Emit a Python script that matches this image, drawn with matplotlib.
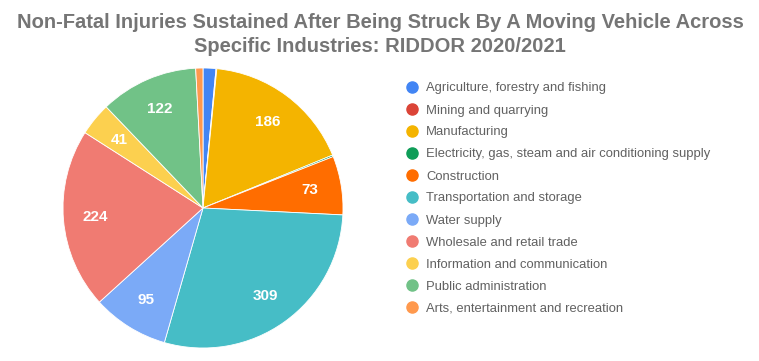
import matplotlib
matplotlib.use("Agg")
import matplotlib.pyplot as plt
import numpy as np
from matplotlib.lines import Line2D

categories = ["Agriculture, forestry and fishing", "Mining and quarrying", "Manufacturing",
              "Electricity, gas, steam and air conditioning supply", "Construction",
              "Transportation and storage", "Water supply", "Wholesale and retail trade",
              "Information and communication", "Public administration",
              "Arts, entertainment and recreation"]
values = [16, 1, 186, 2, 73, 309, 95, 224, 41, 122, 9]
colors = ["#4285F4", "#DB4437", "#F4B400", "#0F9D58", "#FF6D00", "#46BDC6",
          "#7BAAF7", "#F07B72", "#FCD04F", "#71C287", "#FF994D"]

plt.rcParams['font.family'] = ['Liberation Sans', 'DejaVu Sans']
W, H = 759, 361
fig = plt.figure(figsize=(W/100, H/100), dpi=100)

cx, cy, R = 203, 208, 140
ax = fig.add_axes([(cx-R)/W, (H-cy-R)/H, 2*R/W, 2*R/H])
wedges, _ = ax.pie(values, colors=colors, startangle=90, counterclock=False,
                   wedgeprops=dict(linewidth=0.6, edgecolor='white'), radius=1)
ax.set_aspect('equal')
ax.set_xlim(-1, 1); ax.set_ylim(-1, 1)

for w, v in zip(wedges, values):
    if v < 30:
        continue
    ang = np.deg2rad((w.theta1 + w.theta2) / 2)
    r = 0.77
    ax.text(r*np.cos(ang), r*np.sin(ang), str(v), ha='center', va='center',
            color='white', fontsize=11, fontweight='bold')

fig.text(380/W, 1-23/H, "Non-Fatal Injuries Sustained After Being Struck By A Moving Vehicle Across",
         ha='center', va='center', fontsize=14.5, fontweight='bold', color='#757575')
fig.text(380/W, 1-46/H, "Specific Industries: RIDDOR 2020/2021",
         ha='center', va='center', fontsize=14.5, fontweight='bold', color='#757575')

y0, dy = 87, 22
for i, (c, lab) in enumerate(zip(colors, categories)):
    yp = y0 + i*dy
    fig.add_artist(Line2D([412/W], [1 - yp/H], marker='o', linestyle='none', markersize=8,
                          markerfacecolor=c, markeredgecolor=c, transform=fig.transFigure))
    fig.text(426/W, 1 - (yp + 1.5)/H, lab, ha='left', va='center', fontsize=9.4, color='#616161')

fig.savefig("out.png", dpi=100)
